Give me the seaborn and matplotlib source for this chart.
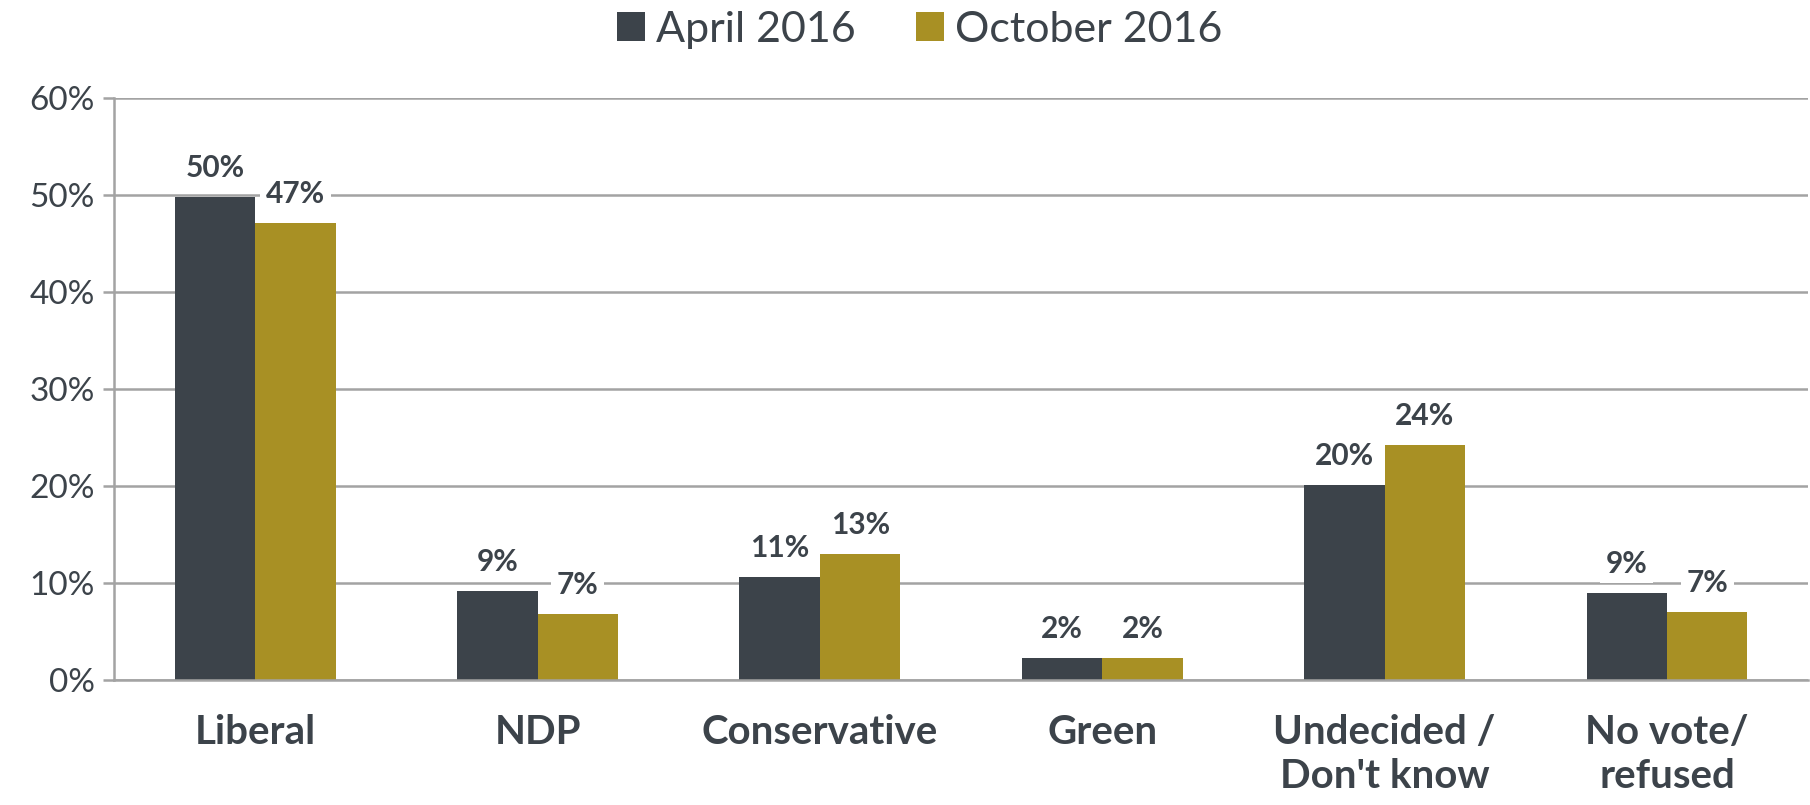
import pandas as pd
import seaborn as sns
import matplotlib.pyplot as plt

# dados
categorias = ['Liberal', 'NDP', 'Conservative', 'Green', 'Undecided /\nDon\'t know', 'No vote/\nrefused']
abril_2016 = [49.8, 9.2, 10.6, 2.3, 20.1, 9.0]
outubro_2016 = [47.1, 6.8, 13.0, 2.3, 24.2, 7.0]
series = ['April 2016', 'October 2016']
cores = ['#3c434a', '#a89024']

df = pd.DataFrame({
    'categoria': categorias * 2,
    'valor': abril_2016 + outubro_2016,
    'serie': [series[0]] * len(categorias) + [series[1]] * len(categorias),
})

sns.set_style('white')
plt.rcParams['font.family'] = ['Lato', 'DejaVu Sans']
texto = '#3c434a'
cinza = '#a3a3a3'

fig = plt.figure(figsize=(18.1, 8.05), dpi=100)
ax = fig.add_axes([0.063, 0.155, 0.936, 0.723])

sns.barplot(data=df, x='categoria', y='valor', hue='serie', palette=cores,
            width=0.57, saturation=1, ax=ax, edgecolor='none', linewidth=0)

# rótulos das barras
for cont in ax.containers:
    rotulos = ax.bar_label(cont, labels=[f'{v.get_height():.0f}%' for v in cont],
                           padding=11, fontsize=21.5, fontweight='bold', color=texto)
    for r in rotulos:
        r.set_bbox(dict(facecolor='white', edgecolor='none', pad=4))

ax.set_ylim(0, 60)
ax.set_xlim(-0.5, 5.5)
ax.set_yticks(range(0, 61, 10))
ax.set_yticklabels([f'{t}%' for t in range(0, 61, 10)])
ax.yaxis.grid(True, color=cinza, linewidth=1.8)
ax.set_axisbelow(True)

ax.set_xticks(range(len(categorias)))
ax.set_xticks([i - 0.5 for i in range(len(categorias) + 1)], minor=True)
ax.tick_params(axis='x', which='major', length=0, pad=24, labelsize=29, labelcolor=texto)
ax.tick_params(axis='x', which='minor', length=10, width=1.8, color=cinza, direction='out')
for lbl in ax.get_xticklabels():
    lbl.set_fontweight('bold')
    lbl.set_linespacing(1.25)
ax.tick_params(axis='y', length=8, width=1.8, color=cinza, left=True,
               labelsize=24, labelcolor=texto, pad=6)

for lado in ['top', 'right']:
    ax.spines[lado].set_visible(False)
for lado in ['left', 'bottom']:
    ax.spines[lado].set_color(cinza)
    ax.spines[lado].set_linewidth(1.8)

ax.set_xlabel('')
ax.set_ylabel('')

ax.legend(loc='center', bbox_to_anchor=(0.508, 0.963), bbox_transform=fig.transFigure,
          ncol=2, frameon=False, fontsize=31, handlelength=0.65, handleheight=0.65,
          handletextpad=0.25, columnspacing=1.4, labelcolor=texto)

fig.savefig('out.png', dpi=100)
